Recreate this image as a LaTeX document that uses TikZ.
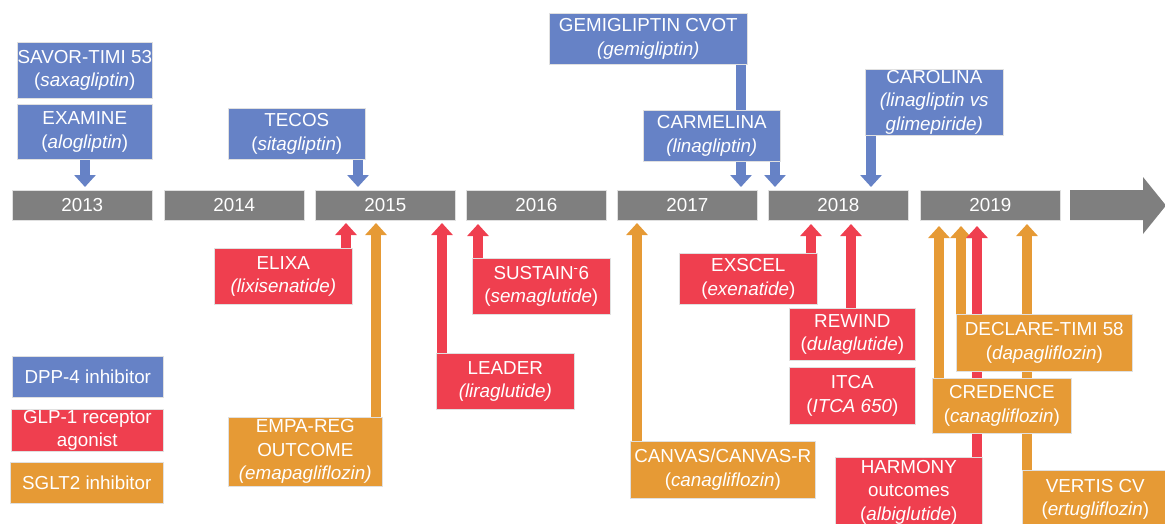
\documentclass[tikz,border=0pt]{standalone}
\usepackage{fontspec}
\setmainfont{Liberation Sans}
\usetikzlibrary{arrows.meta,backgrounds}
\definecolor{cB}{HTML}{6682C6}
\definecolor{cR}{HTML}{EF3F4F}
\definecolor{cO}{HTML}{E69A35}
\definecolor{cG}{HTML}{7F7F7F}
\tikzset{
  box/.style={anchor=north west, inner sep=0pt, align=center, text=white,
    font=\fontsize{18.8}{23.5}\selectfont, draw=white!88!black, line width=0.6pt},
  bbox/.style={box, fill=cB},
  rbox/.style={box, fill=cR},
  obox/.style={box, fill=cO},
  yearbar/.style={box, fill=cG, minimum width=140pt, minimum height=30pt},
  arr/.style={line width=10pt, -{Triangle[length=12pt,width=21pt]}},
  arrB/.style={arr, cB},
  arrR/.style={arr, cR},
  arrO/.style={arr, cO},
}
\begin{document}
\begin{tikzpicture}[x=1pt,y=-1pt]
\useasboundingbox (0,0) rectangle (1165,523);
% timeline
\node[yearbar] (y13) at (12,190) {2013};
\node[yearbar] (y14) at (164,190) {2014};
\node[yearbar] (y15) at (315,190) {2015};
\node[yearbar] (y16) at (466,190) {2016};
\node[yearbar] (y17) at (617,190) {2017};
\node[yearbar] (y18) at (768,190) {2018};
\node[yearbar] (y19) at (920,190) {2019};
\fill[cG] (1070,190) -- (1143,190) -- (1143,177) -- (1166,205.5) -- (1143,234) -- (1143,220) -- (1070,220) -- cycle;
% DPP-4 boxes
\node[bbox, minimum width=135pt, minimum height=56pt] (savor) at (17,42) {SAVOR-TIMI 53\\(\textit{saxagliptin})};
\node[bbox, minimum width=135pt, minimum height=55pt] (examine) at (17,104) {EXAMINE\\(\textit{alogliptin})};
\node[bbox, minimum width=137pt, minimum height=51pt] (tecos) at (228,108) {TECOS\\(\textit{sitagliptin})};
\node[bbox, minimum width=198pt, minimum height=51pt] (gemi) at (549,13) {GEMIGLIPTIN CVOT\\\textit{(gemigliptin)}};
\node[bbox, minimum width=137pt, minimum height=51pt] (carmelina) at (643,110) {CARMELINA\\\textit{(linagliptin)}};
\node[bbox, minimum width=138pt, minimum height=66pt] (carolina) at (865,69) {CAROLINA\\\textit{(linagliptin vs}\\\textit{glimepiride)}};
% GLP-1 boxes
\node[rbox, minimum width=138pt, minimum height=56pt] (elixa) at (214,248) {ELIXA\\\textit{(lixisenatide)}};
\node[rbox, minimum width=138pt, minimum height=56pt] (sustain) at (472,258) {SUSTAIN\textsuperscript{-}6\\(\textit{semaglutide})};
\node[rbox, minimum width=138pt, minimum height=56pt] (leader) at (436,353) {LEADER\\\textit{(liraglutide)}};
\node[rbox, minimum width=138pt, minimum height=51pt] (exscel) at (679,253) {EXSCEL\\(\textit{exenatide})};
\node[rbox, minimum width=126pt, minimum height=52pt] (rewind) at (789,308) {REWIND\\(\textit{dulaglutide})};
\node[rbox, minimum width=126pt, minimum height=57pt] (itca) at (789,367) {ITCA\\(\textit{ITCA 650})};
\node[rbox, minimum width=147pt, minimum height=70pt] (harmony) at (835,457) {HARMONY\\outcomes\\(\textit{albiglutide})};
% SGLT2 boxes
\node[obox, minimum width=154pt, minimum height=69pt] (empa) at (228,417) {EMPA-REG\\OUTCOME\\\textit{(emapagliflozin)}};
\node[obox, minimum width=185pt, minimum height=57pt] (canvas) at (630,441) {CANVAS/CANVAS-R\\(\textit{canagliflozin})};
\node[obox, minimum width=176pt, minimum height=57pt] (declare) at (956,314) {DECLARE-TIMI 58\\(\textit{dapagliflozin})};
\node[obox, minimum width=139pt, minimum height=55pt] (credence) at (932,378) {CREDENCE\\(\textit{canagliflozin})};
\node[obox, minimum width=146pt, minimum height=58pt] (vertis) at (1022,470) {VERTIS CV\\(\textit{ertugliflozin})};
% legend
\node[bbox, minimum width=151pt, minimum height=41pt] (lgB) at (12,356) {DPP-4 inhibitor};
\node[rbox, minimum width=152pt, minimum height=42pt] (lgR) at (11,409) {GLP-1 receptor\\agonist};
\node[obox, minimum width=153pt, minimum height=41pt] (lgO) at (10,462) {SGLT2 inhibitor};
% arrow tips
\coordinate (tExa) at (85,187);
\coordinate (tTec) at (358,187);
\coordinate (tGem) at (741,187);
\coordinate (tCarm) at (775,187);
\coordinate (tCaro) at (871,187);
\coordinate (tEli) at (346,223);
\coordinate (tEmp) at (376,223);
\coordinate (tSus) at (478,224);
\coordinate (tLea) at (442,223);
\coordinate (tCan) at (637,223);
\coordinate (tExs) at (811,224);
\coordinate (tRew) at (851,224);
\coordinate (tCre) at (939,226);
\coordinate (tDec) at (961,226);
\coordinate (tHar) at (977,226);
\coordinate (tVer) at (1027,224);
\begin{pgfonlayer}{background}
\draw[arrB] (examine.south -| tExa) -- (tExa);
\draw[arrB] (tecos.south -| tTec) -- (tTec);
\draw[arrB] (gemi.south -| tGem) -- (tGem);
\draw[arrB] (carmelina.south -| tCarm) -- (tCarm);
\draw[arrB] (carolina.south -| tCaro) -- (tCaro);
\draw[arrR] (elixa.north -| tEli) -- (tEli);
\draw[arrO] (empa.north -| tEmp) -- (tEmp);
\draw[arrR] (sustain.north -| tSus) -- (tSus);
\draw[arrR] (leader.north -| tLea) -- (tLea);
\draw[arrO] (canvas.north -| tCan) -- (tCan);
\draw[arrR] (exscel.north -| tExs) -- (tExs);
\draw[arrR] (rewind.north -| tRew) -- (tRew);
\draw[arrO] (credence.north -| tCre) -- (tCre);
\draw[arrO] (vertis.north -| tVer) -- (tVer);
\draw[arrO] (declare.north -| tDec) -- (tDec);
\draw[arrR] (harmony.north -| tHar) -- (tHar);
\end{pgfonlayer}
\end{tikzpicture}
\end{document}
